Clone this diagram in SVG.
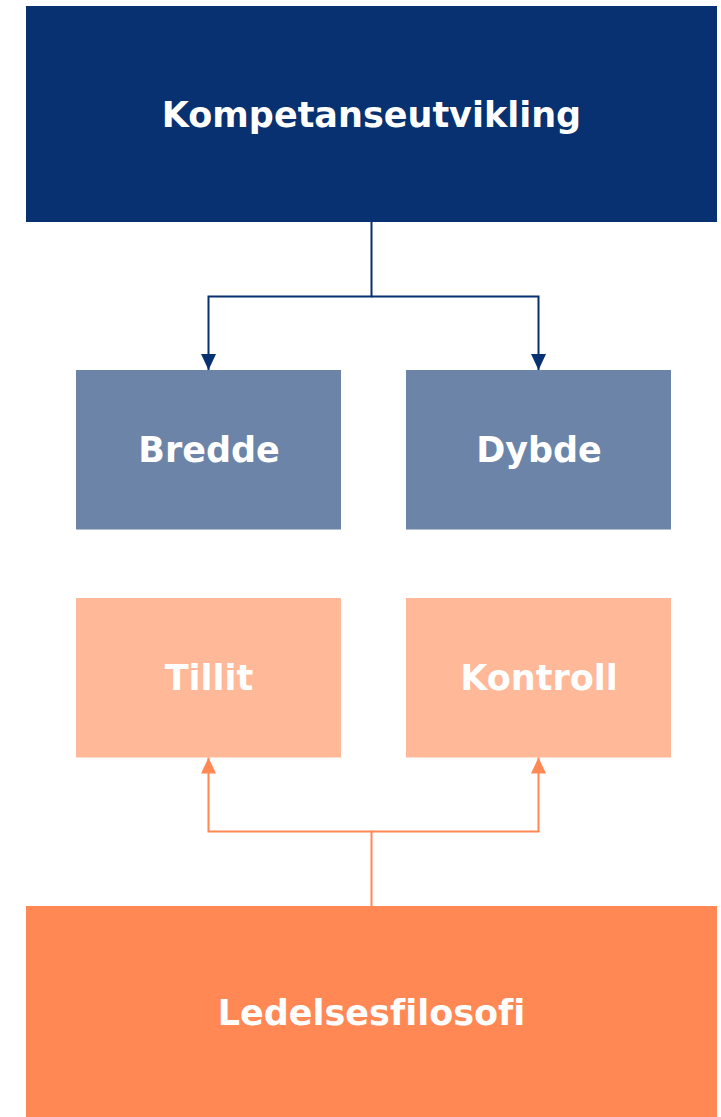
<svg xmlns="http://www.w3.org/2000/svg" width="721" height="1117" viewBox="0 0 721 1117">
<style>
.lbl{font-family:"DejaVu Sans","Verdana",sans-serif;font-weight:bold;font-size:35px;fill:#ffffff;text-anchor:middle;font-variant-ligatures:none}
.blue{stroke:#073170;stroke-width:2;fill:none}
.orange{stroke:#FF8855;stroke-width:2;fill:none}
</style>
<defs>
<marker id="ab" markerUnits="userSpaceOnUse" markerWidth="16" markerHeight="16" viewBox="0 0 16 16" refX="16" refY="8" orient="auto">
<path d="M0,0.5 L16,8 L0,15.5 Z" fill="#073170"/>
</marker>
<marker id="ao" markerUnits="userSpaceOnUse" markerWidth="16" markerHeight="16" viewBox="0 0 16 16" refX="16" refY="8" orient="auto">
<path d="M0,0.5 L16,8 L0,15.5 Z" fill="#FF8855"/>
</marker>
</defs>
<rect width="721" height="1117" fill="#ffffff"/>
<g id="connectors">
<path class="blue" d="M371.5,222 V296.5 H208.5 V370" marker-end="url(#ab)"/>
<path class="blue" d="M371.5,296.5 H538.5 V370" marker-end="url(#ab)"/>
<path class="orange" d="M371.5,906 V831.5 H208.5 V757.5" marker-end="url(#ao)"/>
<path class="orange" d="M371.5,831.5 H538.5 V757.5" marker-end="url(#ao)"/>
</g>
<g id="kompetanseutvikling">
<rect x="26" y="6" width="691" height="216" fill="#073170"/>
<text class="lbl" x="371.5" y="127">Kompetanseutvikling</text>
</g>
<g id="bredde">
<rect x="76" y="370" width="265" height="159.5" fill="#6B84A8"/>
<text class="lbl" x="209" y="462">Bredde</text>
</g>
<g id="dybde">
<rect x="406" y="370" width="265" height="159.5" fill="#6B84A8"/>
<text class="lbl" x="539" y="462">Dybde</text>
</g>
<g id="tillit">
<rect x="76" y="598" width="265" height="159.5" fill="#FFB898"/>
<text class="lbl" x="209" y="690">Tillit</text>
</g>
<g id="kontroll">
<rect x="406" y="598" width="265" height="159.5" fill="#FFB898"/>
<text class="lbl" x="539" y="690">Kontroll</text>
</g>
<g id="ledelsesfilosofi">
<rect x="26" y="906" width="691" height="211" fill="#FF8855"/>
<text class="lbl" x="371.5" y="1025">Ledelsesfilosofi</text>
</g>
</svg>
